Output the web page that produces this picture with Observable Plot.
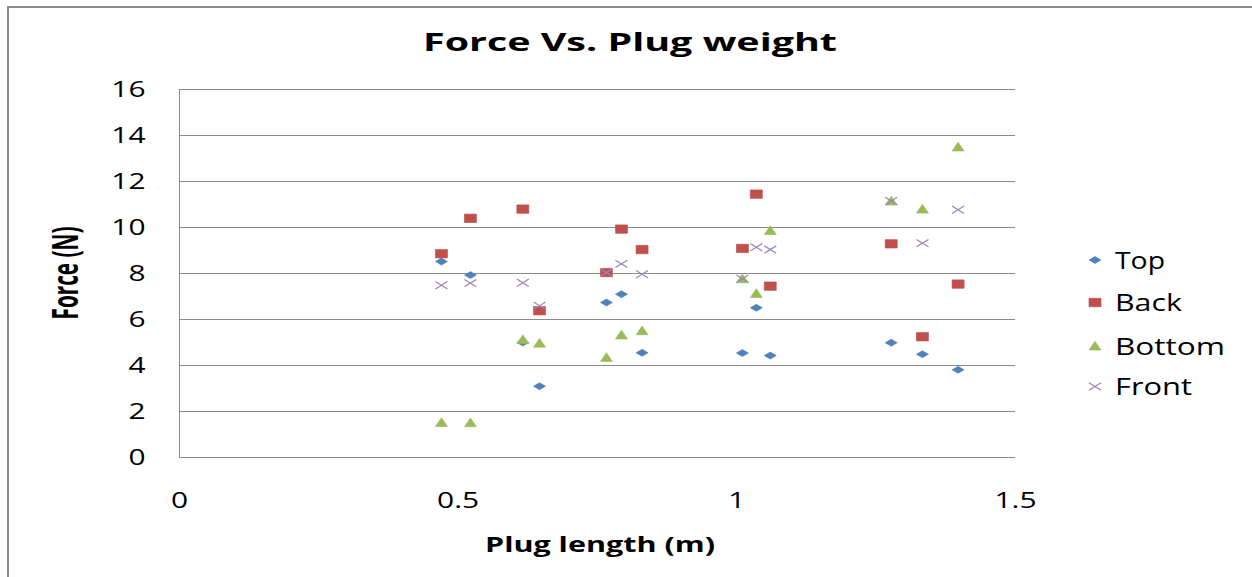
<!DOCTYPE html>
<html><head><meta charset="utf-8">
<script src="https://cdn.jsdelivr.net/npm/d3@7"></script>
<script src="https://cdn.jsdelivr.net/npm/@observablehq/plot@0.6"></script>
<style>
html,body{margin:0;padding:0;background:#fff;overflow:hidden}
#wrap{position:relative;width:1252px;height:577px;overflow:hidden;font-family:"Open Sans",sans-serif;color:#000;background:#fff}
#border{position:absolute;left:7px;top:6px;width:1400px;height:700px;border-left:2px solid #8c8c8c;border-top:2px solid #8c8c8c;box-sizing:border-box}
#chart{position:absolute;left:0;top:0}
#overlay{position:absolute;left:0;top:0;pointer-events:none}
</style></head><body>
<div id="wrap"><div id="border"></div><div id="chart"></div>
<svg id="overlay" width="1252" height="577" font-family="Open Sans, sans-serif"></svg>
</div>
<script>
// ---- data ----
const plugLength = [0.47, 0.522, 0.616, 0.646, 0.766, 0.793, 0.830, 1.010, 1.035, 1.060, 1.277, 1.333, 1.397];
const topForce    = [8.52, 7.93, 5.00, 3.10, 6.74, 7.10, 4.55, 4.54, 6.51, 4.43, 4.99, 4.49, 3.81];
const backForce   = [8.86, 10.40, 10.80, 6.38, 8.04, 9.93, 9.04, 9.09, 11.45, 7.45, 9.29, 5.25, 7.54];
const bottomForce = [1.52, 1.51, 5.13, 4.97, 4.35, 5.33, 5.51, 7.77, 7.13, 9.87, 11.15, 10.80, 13.50];
const frontForce  = [7.49, 7.58, 7.60, 6.60, 8.04, 8.42, 7.97, 7.77, 9.14, 9.04, 11.15, 9.32, 10.77];
const seriesNames = ["Top", "Back", "Bottom", "Front"];
const xTicks = [0, 0.5, 1, 1.5];
const yTicks = [0, 2, 4, 6, 8, 10, 12, 14, 16];
const titleText = "Force Vs. Plug weight";
const xTitle = "Plug length (m)";
const yTitle = "Force (N)";

const colors = {Top: "#4F81BD", Back: "#C0504D", Bottom: "#9BBB59", Front: "#9783BD"};
const strokes = {Top: "#4A7EBB", Back: "#BE4B48", Bottom: "#98B954", Front: "#9783BD"};

// custom (horizontally wide) symbols
const symDiamond = {draw(c){c.moveTo(-6,0);c.lineTo(0,-3.5);c.lineTo(6,0);c.lineTo(0,3.5);c.closePath();}};
const symSquare  = {draw(c){c.moveTo(-6,-4.2);c.lineTo(6,-4.2);c.lineTo(6,4.2);c.lineTo(-6,4.2);c.closePath();}};
const symTri     = {draw(c){c.moveTo(0,-4.8);c.lineTo(6,4);c.lineTo(-6,4);c.closePath();}};
const symX       = {draw(c){c.moveTo(-6,-3.7);c.lineTo(6,3.7);c.moveTo(-6,3.7);c.lineTo(6,-3.7);}};
const symbols = {Top: symDiamond, Back: symSquare, Bottom: symTri, Front: symX};

const rows = (vals) => plugLength.map((x, i) => ({x, y: vals[i]}));
const seriesData = {Top: rows(topForce), Back: rows(backForce), Bottom: rows(bottomForce), Front: rows(frontForce)};

const dotMarks = seriesNames.map(s => s === "Front"
  ? Plot.dot(seriesData[s], {x: "x", y: "y", symbol: symbols[s], fill: "none", stroke: colors[s], strokeWidth: 1.2})
  : Plot.dot(seriesData[s], {x: "x", y: "y", symbol: symbols[s], fill: colors[s], stroke: strokes[s], strokeWidth: 0.6}));

const chart = Plot.plot({
  width: 1252, height: 577,
  marginLeft: 179, marginRight: 237, marginTop: 89, marginBottom: 120,
  x: {domain: [0, 1.5]},
  y: {domain: [0, 16]},
  style: {fontFamily: "Open Sans, sans-serif", fontSize: "22px", color: "#000", background: "transparent"},
  marks: [
    Plot.ruleY(yTicks, {stroke: "#8c8c8c", strokeOpacity: 1, strokeWidth: 1}),
    Plot.ruleX([0], {stroke: "#8c8c8c", strokeOpacity: 1, strokeWidth: 1}),
    Plot.axisY(yTicks, {tickSize: 0, tickPadding: 34, label: null, fontSize: 22, tickFormat: d => String(d)}),
    Plot.axisX(xTicks, {tickSize: 0, tickPadding: 35, label: null, fontSize: 22, tickFormat: d => String(d)}),
    ...dotMarks
  ]
});
document.getElementById("chart").appendChild(chart);

// stretch tick labels horizontally like the reference
chart.querySelectorAll('g[aria-label$="tick label"] text').forEach(t => {
  const len = t.getComputedTextLength();
  t.setAttribute("textLength", (len * 1.36).toFixed(1));
  t.setAttribute("lengthAdjust", "spacingAndGlyphs");
});

// ---- overlay texts and legend ----
const ov = d3.select("#overlay");
ov.append("text").attr("x", 630).attr("y", 51).attr("text-anchor", "middle")
  .attr("font-size", 25).attr("font-weight", "bold").attr("textLength", 414).attr("lengthAdjust", "spacingAndGlyphs")
  .text(titleText);
ov.append("text").attr("x", 600).attr("y", 552).attr("text-anchor", "middle")
  .attr("font-size", 21).attr("font-weight", "bold").attr("textLength", 230).attr("lengthAdjust", "spacingAndGlyphs")
  .text(xTitle);
ov.append("g").attr("transform", "translate(68,273) scale(1.4,1) rotate(-90)")
  .append("text").attr("x", 0).attr("y", 7).attr("text-anchor", "middle")
  .attr("font-size", 25).attr("font-weight", "bold").attr("textLength", 93).attr("lengthAdjust", "spacingAndGlyphs")
  .text(yTitle);

const legendY = [260, 302.5, 346, 386.5];
const legendW = {Top: 50, Back: 67, Bottom: 110, Front: 77};
seriesNames.forEach((s, i) => {
  const g = ov.append("g").attr("transform", `translate(1095,${legendY[i]})`);
  const p = d3.path(); symbols[s].draw(p);
  if (s === "Front") g.append("path").attr("d", p.toString()).attr("fill", "none").attr("stroke", colors[s]).attr("stroke-width", 1.2);
  else g.append("path").attr("d", p.toString()).attr("fill", colors[s]).attr("stroke", strokes[s]).attr("stroke-width", 0.6);
  ov.append("text").attr("x", 1115).attr("y", legendY[i] + 8.5).attr("font-size", 23)
    .attr("textLength", legendW[s]).attr("lengthAdjust", "spacingAndGlyphs").text(s);
});
</script>
</body></html>
